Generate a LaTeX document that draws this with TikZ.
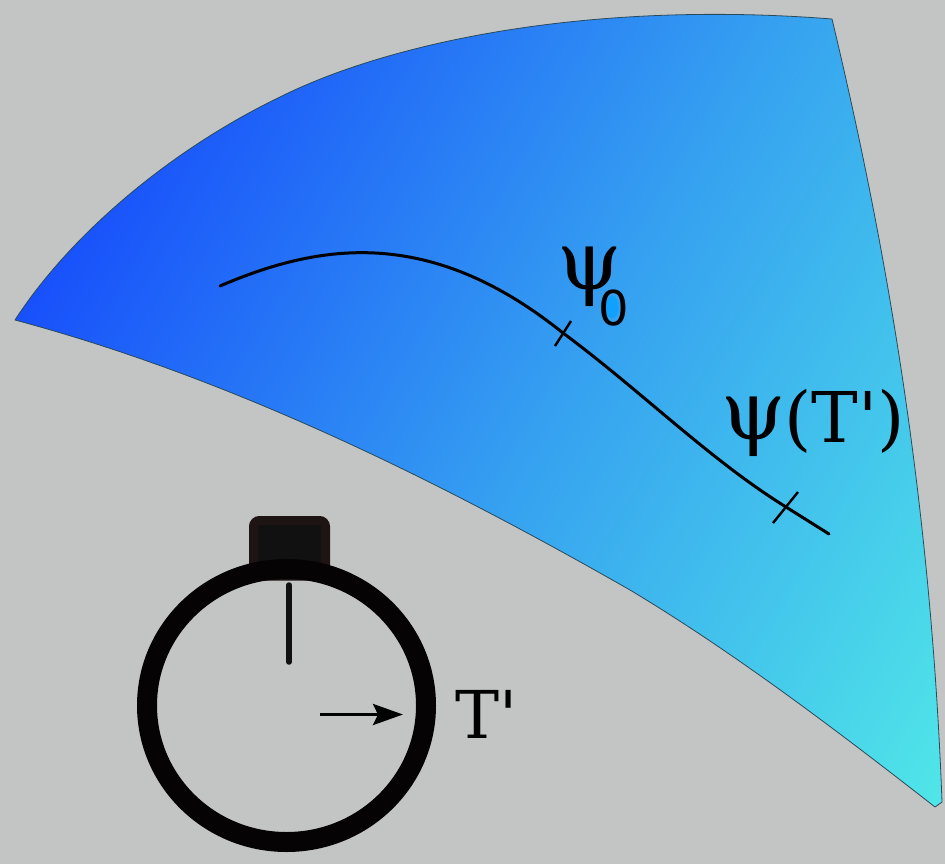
\documentclass[tikz,border=0pt]{standalone}
\usepackage{fontspec}
\newfontfamily\labfont{DejaVu Serif}
\newfontfamily\zerofont{DejaVu Sans}
\usetikzlibrary{arrows.meta}
\definecolor{bgc}{HTML}{C3C5C4}
\definecolor{gradA}{HTML}{1850FB}
\definecolor{gradM}{HTML}{36A2F0}
\definecolor{gradB}{HTML}{50E6E8}
\definecolor{edgec}{HTML}{2A4A5A}
\definecolor{ringc}{HTML}{050303}
\definecolor{crownedge}{HTML}{1E1414}
\definecolor{crownfill}{HTML}{111111}
\definecolor{zeroin}{HTML}{10A0FF}
\newcommand{\bigpsi}{{\fontsize{82}{82}\selectfont ψ}}
\tikzset{
  lab/.style={inner sep=0pt,anchor=base west,font=\labfont\fontsize{70}{70}\selectfont,text=black},
  clocklab/.style={inner sep=0pt,anchor=base west,font=\labfont\fontsize{66}{66}\selectfont,text=black},
  sub/.style={inner sep=0pt,anchor=base west,font=\zerofont\fontsize{48}{48}\selectfont,text=black},
  curve/.style={line width=3pt,black,line cap=round},
  tick/.style={line width=2.4pt,black},
}
\newcommand{\sheetpath}{(15,320)
  .. controls (70,235) and (170,150) .. (280,97)
  .. controls (390,42) and (590,0) .. (832,19)
  .. controls (880,220) and (930,480) .. (942,802)
  -- (935,807)
  .. controls (830,725) and (730,650) .. (630,590)
  .. controls (420,470) and (220,375) .. (15,320) -- cycle}
\begin{document}
\begin{tikzpicture}[x=1pt,y=-1pt]
\useasboundingbox (0,0) rectangle (945,864);
\fill[bgc] (0,0) rectangle (945,864);
\begin{scope}
  \clip \sheetpath;
  \begin{scope}[transform canvas={shift={(15pt,-320pt)},rotate=-30}]
    \shade[left color=gradA,right color=gradB,middle color=gradM] (0,-1000) rectangle (1043,1000);
  \end{scope}
\end{scope}
\draw[edgec,line width=0.8pt,line join=round] \sheetpath;
% curve
\coordinate (c0) at (220,286);
\coordinate (c1) at (563,333);
\coordinate (c2) at (786,507);
\coordinate (c3) at (829,534);
\draw[curve] (c0) .. controls (320,243) and (430,226) .. (c1)
  .. controls (640,390) and (710,460) .. (c2) -- (c3);
\coordinate (t1a) at (555,346); \coordinate (t1b) at (571,321);
\coordinate (t2a) at (773,523); \coordinate (t2b) at (798,492);
\draw[tick] (t1a) -- (t1b);
\draw[tick] (t2a) -- (t2b);
% labels
\node[lab] (psi) at (557,289) {\bigpsi};
\fill[zeroin] (612,307) ellipse (6.5 and 11.5);
\node[sub] (zero) at (598,325) {0};
\node[lab] (psit) at (721,442) {\raisebox{3pt}{\bigpsi}\kern-1pt(T')};
% watch
\draw[crownedge,fill=crownfill,line width=9pt,rounded corners=6pt] (253.5,520.5) rectangle (325.5,576);
\coordinate (wc) at (286.5,705.5);
\draw[ringc,line width=20pt] (wc) ellipse (139.5 and 136.5);
\coordinate (h0) at (289,585); \coordinate (h1) at (289,662);
\draw[crownfill,line width=5.5pt,line cap=round] (h0) -- (h1);
\coordinate (a0) at (320,714.5); \coordinate (a1) at (403,714.5);
\draw[black,line width=3.6pt,-{Stealth[length=30pt,width=21pt,inset=5pt]}] (a0) -- (a1);
\node[clocklab] (tp) at (455,738) {T'};
\end{tikzpicture}
\end{document}
